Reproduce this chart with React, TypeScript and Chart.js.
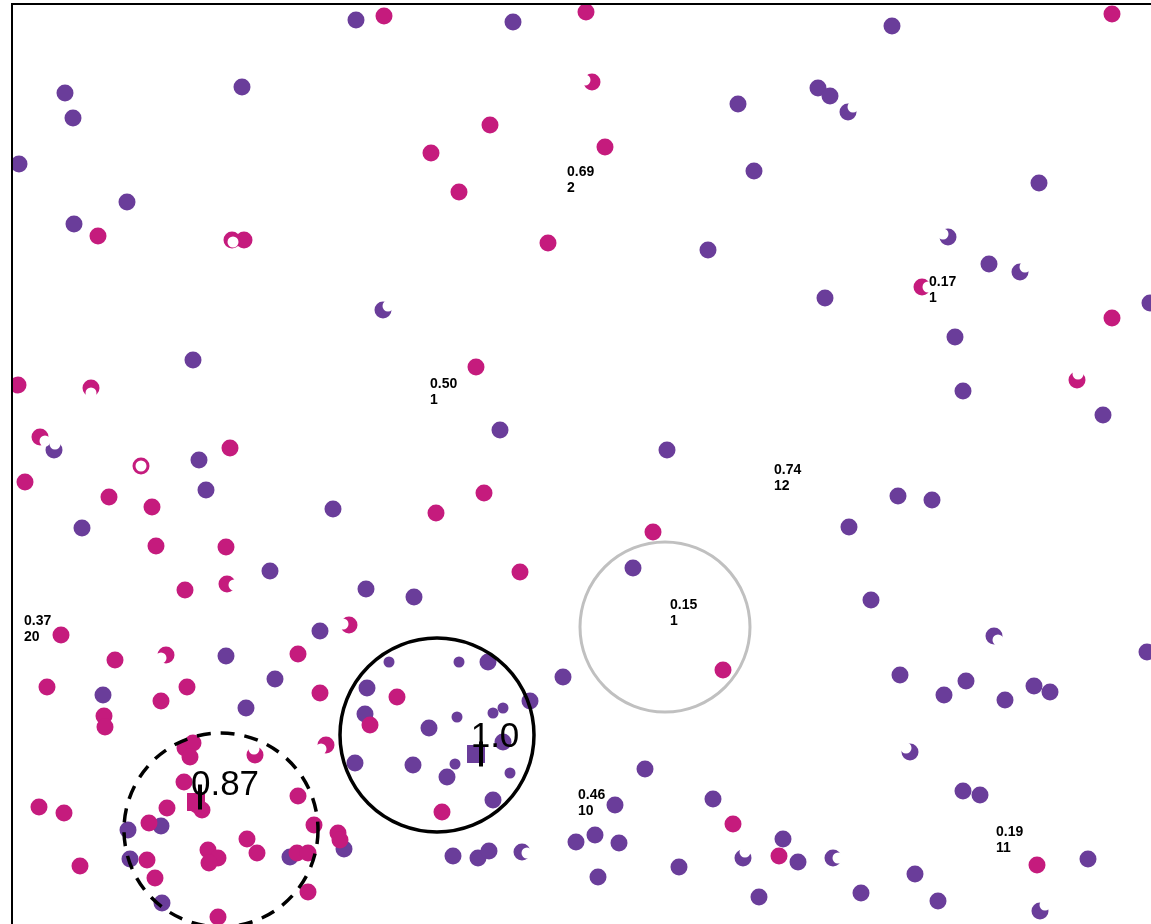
import React, { useEffect, useRef } from "react";
import { Chart, registerables } from "chart.js";

Chart.register(...registerables);

// ---- data (chart units: x grows right, y grows downward) ----
const purplePoints: [number, number][] = [
  [356, 20], [513, 22], [892, 26], [65, 93], [73, 118], [242, 87], [738, 104], [818, 88], [830, 96], [848, 112],
  [754, 171], [1039, 183], [19, 164], [127, 202], [74, 224], [708, 250], [948, 237], [989, 264], [1020, 272],
  [825, 298], [1150, 303], [383, 310], [955, 337], [193, 360], [963, 391], [1103, 415], [54, 450], [500, 430],
  [199, 460], [667, 450], [206, 490], [333, 509], [898, 496], [932, 500], [82, 528], [849, 527], [633, 568],
  [270, 571], [366, 589], [414, 597], [871, 600], [320, 631], [994, 636], [1147, 652], [226, 656], [488, 662],
  [563, 677], [900, 675], [966, 681], [1034, 686], [1050, 692], [944, 695], [1005, 700], [103, 695], [275, 679],
  [367, 688], [530, 701], [246, 708], [365, 714], [429, 728], [355, 763], [413, 765], [447, 777], [493, 800],
  [503, 742], [128, 830], [161, 826], [130, 859], [290, 857], [162, 903], [344, 849], [645, 769], [615, 805],
  [595, 835], [576, 842], [619, 843], [522, 852], [598, 877], [679, 867], [713, 799], [783, 839], [743, 858],
  [798, 862], [833, 858], [759, 897], [453, 856], [478, 858], [489, 851], [910, 752], [963, 791], [980, 795],
  [1088, 859], [915, 874], [861, 893], [938, 901], [1040, 911],
];

const purpleSmallPoints: [number, number][] = [
  [389, 662], [459, 662], [457, 717], [503, 708], [493, 713], [455, 764], [510, 773],
];

const magentaPoints: [number, number][] = [
  [384, 16], [586, 12], [1112, 14], [592, 82], [490, 125], [431, 153], [605, 147], [459, 192], [98, 236],
  [244, 240], [232, 240], [548, 243], [922, 287], [1112, 318], [476, 367], [18, 385], [91, 388], [1077, 380],
  [40, 437], [141, 466], [230, 448], [25, 482], [109, 497], [152, 507], [484, 493], [436, 513], [653, 532],
  [156, 546], [226, 547], [520, 572], [185, 590], [227, 584], [61, 635], [349, 625], [115, 660], [166, 655],
  [298, 654], [723, 670], [47, 687], [187, 687], [161, 701], [320, 693], [397, 697], [104, 716], [105, 727],
  [370, 725], [326, 745], [442, 812], [338, 833], [340, 840], [733, 824], [779, 856], [1037, 865], [185, 748],
  [193, 743], [190, 757], [255, 755], [184, 782], [197, 805], [202, 810], [167, 808], [298, 796], [149, 823],
  [314, 825], [247, 839], [208, 850], [218, 858], [209, 863], [257, 853], [147, 860], [297, 853], [308, 853],
  [155, 878], [308, 892], [218, 917], [39, 807], [64, 813], [80, 866],
];

// blank (white) marks that overlap some points
const blankPoints: [number, number][] = [
  [585, 80], [853, 107], [943, 234], [1025, 267], [928, 287], [1078, 374], [388, 306], [91, 393], [45, 441],
  [55, 444], [141, 466], [234, 585], [343, 624], [161, 658], [254, 749], [233, 242], [527, 853], [745, 852],
  [838, 858], [906, 748], [1045, 905], [998, 640], [321, 749],
];

// cluster circles: centre x, centre y, radius (chart units)
const circleCentersX = [437, 221, 665];
const circleCentersY = [735, 830, 627];
const circleRadii = [97, 97, 85];

// cluster centroid labels
const centroidLabels = ["1.0", "0.87"];
const centroidLabelX = [495, 225];
const centroidLabelY = [737, 785];
const centroidSquares: [number, number][] = [[476, 754], [196, 802]];
const centroidBars: [number, number][] = [[481, 754], [200, 797]];

// small two-line annotations
const noteValues = ["0.69", "0.17", "0.50", "0.74", "0.15", "0.37", "0.46", "0.19"];
const noteCounts = ["2", "1", "1", "12", "1", "20", "10", "11"];
const noteX = [567, 929, 430, 774, 670, 24, 578, 996];
const noteY = [172, 282, 384, 470, 605, 621, 795, 832];

// ---- styles ----
const PURPLE = "#6a3d9a";
const MAGENTA = "#c51b7d";
const circleStyles = [
  { color: "#000000", width: 3.5, dash: [] as number[] },
  { color: "#000000", width: 3.5, dash: [14, 10] },
  { color: "#c0c0c0", width: 3, dash: [] as number[] },
];
const centroidColors = [PURPLE, MAGENTA];

const toXY = (arr: [number, number][]) => arr.map(([x, y]) => ({ x, y }));

const overlayPlugin = {
  id: "overlay",
  afterDatasetsDraw(chart: any) {
    const { ctx, chartArea } = chart;
    const xs = chart.scales.x;
    const ys = chart.scales.y;
    ctx.save();
    ctx.beginPath();
    ctx.rect(chartArea.left, chartArea.top, chartArea.right - chartArea.left, chartArea.bottom - chartArea.top);
    ctx.clip();
    circleCentersX.forEach((cx, i) => {
      const px = xs.getPixelForValue(cx);
      const py = ys.getPixelForValue(circleCentersY[i]);
      const r = Math.abs(xs.getPixelForValue(cx + circleRadii[i]) - px);
      const st = circleStyles[i];
      ctx.beginPath();
      ctx.setLineDash(st.dash);
      ctx.lineWidth = st.width;
      ctx.strokeStyle = st.color;
      ctx.arc(px, py, r, 0, Math.PI * 2);
      ctx.stroke();
    });
    ctx.setLineDash([]);
    ctx.fillStyle = "#000";
    ctx.textAlign = "center";
    ctx.textBaseline = "middle";
    ctx.font = "35px 'Liberation Sans', Arial, sans-serif";
    centroidLabels.forEach((t, i) => {
      ctx.fillText(t, xs.getPixelForValue(centroidLabelX[i]), ys.getPixelForValue(centroidLabelY[i]));
    });
    ctx.textAlign = "left";
    ctx.font = "bold 14px 'Liberation Sans', Arial, sans-serif";
    noteValues.forEach((t, i) => {
      const px = xs.getPixelForValue(noteX[i]);
      const py = ys.getPixelForValue(noteY[i]);
      ctx.fillText(t, px, py);
      ctx.fillText(noteCounts[i], px, py + 16);
    });
    ctx.restore();
    // frame (left and top)
    ctx.save();
    ctx.fillStyle = "#000";
    ctx.fillRect(chartArea.left - 2, chartArea.top - 2, 2, chartArea.bottom - chartArea.top + 2);
    ctx.fillRect(chartArea.left - 2, chartArea.top - 2, chartArea.right - chartArea.left + 2, 2);
    ctx.restore();
  },
};

export default function App() {
  const ref = useRef<HTMLCanvasElement | null>(null);
  useEffect(() => {
    if (!ref.current) return;
    const chart = new Chart(ref.current, {
      type: "scatter",
      data: {
        datasets: [
          {
            label: "bars",
            data: toXY(centroidBars),
            pointStyle: "line",
            rotation: 90,
            pointRadius: 12.5,
            borderColor: "#000",
            pointBorderWidth: 4,
            clip: 0,
            order: 0,
          } as any,
          {
            label: "centroids",
            data: toXY(centroidSquares),
            pointStyle: "rect",
            pointRadius: 12.7,
            backgroundColor: centroidColors,
            pointBackgroundColor: centroidColors,
            pointBorderWidth: 0,
            clip: 0,
            order: 1,
          } as any,
          {
            label: "blank",
            data: toXY(blankPoints),
            pointRadius: 5.5,
            pointBackgroundColor: "#ffffff",
            backgroundColor: "#ffffff",
            pointBorderWidth: 0,
            clip: 0,
            order: 2,
          } as any,
          {
            label: "magenta",
            data: toXY(magentaPoints),
            pointRadius: 8.5,
            pointBackgroundColor: MAGENTA,
            backgroundColor: MAGENTA,
            pointBorderWidth: 0,
            clip: 0,
            order: 3,
          } as any,
          {
            label: "purple small",
            data: toXY(purpleSmallPoints),
            pointRadius: 5.5,
            pointBackgroundColor: PURPLE,
            backgroundColor: PURPLE,
            pointBorderWidth: 0,
            clip: 0,
            order: 4,
          } as any,
          {
            label: "purple",
            data: toXY(purplePoints),
            pointRadius: 8.5,
            pointBackgroundColor: PURPLE,
            backgroundColor: PURPLE,
            pointBorderWidth: 0,
            clip: 0,
            order: 5,
          } as any,
        ],
      },
      options: {
        animation: false,
        responsive: false,
        maintainAspectRatio: false,
        events: [],
        layout: { autoPadding: false, padding: { left: 13, top: 5, right: 0, bottom: 0 } },
        plugins: { legend: { display: false }, tooltip: { enabled: false } },
        scales: {
          x: { type: "linear", min: 13, max: 1160, display: false },
          y: { type: "linear", min: 5, max: 940, reverse: true, display: false },
        },
      } as any,
      plugins: [overlayPlugin],
    });
    return () => chart.destroy();
  }, []);
  return (
    <div style={{ position: "fixed", left: 0, top: 0, width: 1151, height: 924, overflow: "hidden", background: "#fff" }}>
      <canvas ref={ref} width={1160} height={940} style={{ display: "block" }} />
    </div>
  );
}
